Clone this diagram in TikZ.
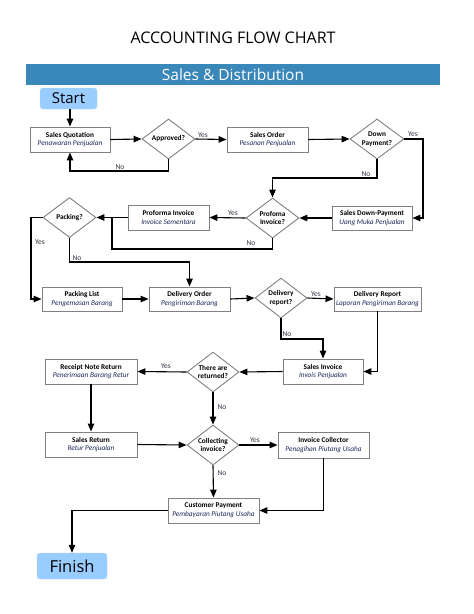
\documentclass[tikz,border=0pt]{standalone}
\usepackage{fontspec}
\setmainfont{Carlito}
\newfontfamily\headfont{Open Sans}
\usetikzlibrary{arrows.meta,shapes.geometric}
\definecolor{banner}{HTML}{3A87B9}
\definecolor{termfill}{HTML}{99CCFF}
\definecolor{boxline}{HTML}{808080}
\definecolor{subtxt}{HTML}{1A2858}
\definecolor{lbltxt}{HTML}{333344}
\tikzset{
  box/.style={draw=boxline,line width=0.9pt,fill=white,align=center,inner sep=0pt,
    font=\fontsize{7.3}{8.8}\selectfont},
  dia/.style={diamond,draw=boxline,line width=0.9pt,fill=white,inner sep=0pt,
    minimum width=53pt,minimum height=40pt},
  diatext/.style={align=center,inner sep=0pt,font=\fontsize{7.3}{8.8}\selectfont\bfseries},
  term/.style={fill=termfill,draw=termfill!80!white,rounded corners=3pt,inner sep=0pt,
    font=\headfont\fontsize{15}{18}\selectfont},
  arr/.style={-{Triangle[length=8pt,width=6.5pt]},line width=1.1pt},
  ln/.style={line width=1.1pt},
  lbl/.style={text=lbltxt,inner sep=0pt,font=\fontsize{7.5}{9}\selectfont}
}
\newcommand{\bx}[2]{\textbf{#1}\\{\color{subtxt}\itshape #2}}
\begin{document}
\begin{tikzpicture}[x=1pt,y=-1pt]
\useasboundingbox (0,0) rectangle (474,614);
% title & banner
\node[font=\headfont\fontsize{16}{19}\selectfont] (title) at (233,38) {ACCOUNTING FLOW CHART};
\node[fill=banner,minimum width=414pt,minimum height=21pt,inner sep=0pt,text=white,
  font=\headfont\fontsize{15.5}{18}\selectfont] (ban) at (233,74.5) {Sales \& Distribution};
% terminals
\node[term,minimum width=57pt,minimum height=21pt] (start) at (68.5,98.5) {Start};
\node[term,minimum width=70pt,minimum height=26pt,font=\headfont\fontsize{16.5}{19}\selectfont] (finish) at (72,566) {Finish};
% boxes
\node[box,minimum width=80pt,minimum height=25pt] (sq) at (70,139.5) {\bx{Sales Quotation}{Penawaran Penjualan}};
\node[box,minimum width=81pt,minimum height=25pt] (so) at (267.5,139.5) {\bx{Sales Order}{Pesanan Penjualan}};
\node[box,minimum width=80pt,minimum height=24pt] (sdp) at (372,218) {\bx{Sales Down-Payment}{Uang Muka Penjualan}};
\node[box,minimum width=81pt,minimum height=25pt] (pinv) at (168.5,217.5) {\bx{Proforma Invoice}{Invoice Sementara}};
\node[box,minimum width=80pt,minimum height=24pt] (plist) at (82,299) {\bx{Packing List}{Pengemasan Barang}};
\node[box,minimum width=81pt,minimum height=24pt] (dorder) at (189.5,299) {\bx{Delivery Order}{Pengiriman Barang}};
\node[box,minimum width=87pt,minimum height=24pt] (drepbox) at (377.5,299) {\bx{Delivery Report}{Laporan Pengiriman Barang}};
\node[box,minimum width=80pt,minimum height=25pt] (sinv) at (323,371.5) {\bx{Sales Invoice}{Invois Penjualan}};
\node[box,minimum width=92pt,minimum height=25pt] (rnr) at (91,371.5) {\bx{Receipt Note Return}{Penerimaan Barang Retur}};
\node[box,minimum width=92pt,minimum height=25pt] (sret) at (91,444.5) {\bx{Sales Return}{Retur Penjualan}};
\node[box,minimum width=91pt,minimum height=26pt] (icol) at (323.5,445) {\bx{Invoice Collector}{Penagihan Piutang Usaha}};
\node[box,minimum width=91pt,minimum height=25pt] (cpay) at (213.5,510.5) {\bx{Customer Payment}{Pembayaran Piutang Usaha}};
% diamonds
\node[dia,label={[diatext]center:Approved?}] (appr) at (168.5,139) {};
\node[dia,minimum width=54pt,label={[diatext]center:Down\\Payment?}] (dp) at (377,139) {};
\node[dia,label={[diatext]center:Profoma\\Invoice?}] (pinvq) at (272.5,218) {};
\node[dia,label={[diatext]center:Packing?}] (pack) at (69.5,217.5) {};
\node[dia,minimum width=52pt,label={[diatext]center:Delivery\\report?}] (drep) at (281,298) {};
\node[dia,minimum width=52pt,label={[diatext]center:There are\\returned?}] (ret) at (213,372) {};
\node[dia,minimum width=52pt,label={[diatext]center:Collecting\\invoice?}] (coll) at (213,445) {};
% helper coordinates
\coordinate (c1) at (423,218);
\coordinate (c2) at (272.5,178);
\coordinate (c3) at (112,249);
\coordinate (c4) at (112,217.5);
\coordinate (c5) at (31,217.5);
\coordinate (c6) at (189.5,262);
\coordinate (c7) at (323,339);
% connectors
\draw[arr] (start.south -| sq.north) -- (sq.north);
\draw[arr] (sq.east) -- (appr.west);
\draw[arr] (appr.south) |- (sq.south |- 0,171) -- (sq.south);
\draw[arr] (appr.east) -- (so.west);
\draw[arr] (so.east) -- (dp.west);
\draw[arr] (dp.east) -| (c1) -- (sdp.east);
\draw[arr] (dp.south) |- (c2) -- (pinvq.north);
\draw[arr] (sdp.west) -- (pinvq.east);
\draw[arr] (pinvq.west) -- (pinv.east);
\draw[arr] (pinv.west) -- (pack.east);
\draw[ln] (pinvq.south) |- (c3) -- (c4);
\draw[arr] (pack.west) -- (c5) |- (plist.west);
\draw[arr] (pack.south) |- (c6) -- (dorder.north);
\draw[arr] (plist.east) -- (dorder.west);
\draw[arr] (dorder.east) -- (drep.west);
\draw[arr] (drep.east) -- (drepbox.west);
\draw[arr] (drep.south) |- (c7) -- (sinv.north);
\draw[arr] (drepbox.south) |- (sinv.east);
\draw[arr] (sinv.west) -- (ret.east);
\draw[arr] (ret.west) -- (rnr.east);
\draw[arr] (rnr.south) -- (sret.north);
\draw[arr] (ret.south) -- (coll.north);
\draw[arr] (sret.east) -- (coll.west);
\draw[arr] (coll.east) -- (icol.west);
\draw[arr] (coll.south) -- (cpay.north);
\draw[arr] (icol.south) |- (cpay.east);
\draw[arr] (cpay.west) -| (finish.north);
% labels
\node[lbl] (l1) at (120,167) {No};
\node[lbl] (l2) at (203,135) {Yes};
\node[lbl] (l3) at (413,134) {Yes};
\node[lbl] (l4) at (366,174) {No};
\node[lbl] (l5) at (233,213) {Yes};
\node[lbl] (l6) at (251,243) {No};
\node[lbl] (l7) at (40,242) {Yes};
\node[lbl] (l8) at (77,258) {No};
\node[lbl] (l9) at (316,294) {Yes};
\node[lbl] (l10) at (287,334) {No};
\node[lbl] (l11) at (166,366) {Yes};
\node[lbl] (l12) at (222,407) {No};
\node[lbl] (l13) at (255,440) {Yes};
\node[lbl] (l14) at (222,473) {No};
\end{tikzpicture}
\end{document}
